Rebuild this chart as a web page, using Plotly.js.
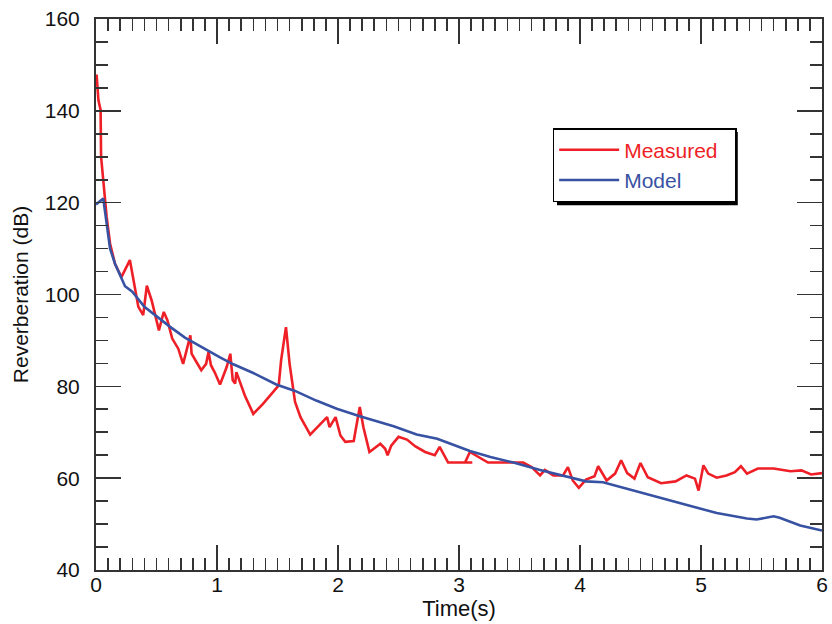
<!DOCTYPE html>
<html>
<head>
<meta charset="utf-8">
<script src="https://cdn.plot.ly/plotly-3.0.1.min.js"></script>
<style>
  html, body { margin: 0; padding: 0; background: #fff; }
  #chart { width: 832px; height: 624px; }
</style>
</head>
<body>
<div id="chart"></div>
<script>
// Measured reverberation level over time
const measuredTime = [0.005, 0.02, 0.038, 0.042, 0.06, 0.088, 0.116, 0.157, 0.21, 0.28,
  0.35, 0.39, 0.42, 0.46, 0.52, 0.56, 0.59, 0.63, 0.68, 0.72,
  0.78, 0.79, 0.83, 0.87, 0.91, 0.93, 0.95, 0.98, 1.025, 1.08,
  1.11, 1.13, 1.15, 1.16, 1.23, 1.30, 1.38, 1.51, 1.53, 1.57,
  1.60, 1.645, 1.69, 1.77, 1.91, 1.93, 1.98, 2.02, 2.06, 2.13,
  2.15, 2.18, 2.21, 2.24, 2.26, 2.35, 2.39, 2.41, 2.44, 2.50,
  2.57, 2.64, 2.72, 2.80, 2.84, 2.91, 3.11, 3.05, 3.09, 3.24,
  3.53, 3.60, 3.67, 3.71, 3.78, 3.86, 3.90, 3.94, 3.99, 4.05,
  4.12, 4.15, 4.22, 4.29, 4.34, 4.39, 4.45, 4.50, 4.56, 4.67,
  4.79, 4.88, 4.95, 4.98, 5.02, 5.06, 5.13, 5.21, 5.28, 5.33,
  5.38, 5.47, 5.60, 5.74, 5.83, 5.91, 6.0];
const measuredLevel = [147.9, 142.3, 140.2, 130.0, 124.9, 116.9, 111.1, 106.7, 103.8, 107.5,
  97.3, 95.5, 101.9, 98.7, 92.2, 96.2, 94.4, 90.4, 88.2, 84.9,
  91.1, 87.1, 85.3, 83.5, 84.9, 87.5, 84.6, 83.1, 80.4, 84.2,
  87.1, 81.3, 80.6, 83.1, 78.0, 74.0, 76.2, 80.2, 85.7, 92.9,
  84.9, 76.6, 73.3, 69.5, 73.3, 71.1, 73.3, 69.3, 67.9, 68.1,
  71.1, 75.5, 71.1, 67.5, 65.7, 67.5, 66.4, 65.0, 67.1, 69.0,
  68.4, 66.9, 65.7, 65.0, 66.8, 63.4, 63.4, 63.4, 65.7, 63.4,
  63.4, 62.4, 60.6, 61.8, 60.6, 60.6, 62.4, 59.5, 57.9, 59.7,
  60.4, 62.6, 59.5, 61.0, 63.9, 61.1, 59.9, 63.3, 60.2, 58.9,
  59.3, 60.6, 59.9, 57.3, 62.8, 61.0, 60.1, 60.6, 61.3, 62.6,
  61.0, 62.1, 62.1, 61.5, 61.7, 60.8, 61.1];

// Model prediction
const modelTime = [0.0, 0.06, 0.116, 0.157, 0.24, 0.30, 0.40, 0.50, 0.61, 0.735,
  0.82, 0.915, 1.025, 1.135, 1.30, 1.49, 1.645, 1.82, 1.99, 2.18,
  2.46, 2.65, 2.82, 2.93, 3.09, 3.26, 3.45, 3.67, 3.89, 4.05,
  4.19, 4.36, 4.58, 4.85, 5.13, 5.38, 5.46, 5.60, 5.65, 5.82, 6.0];
const modelLevel = [119.6, 120.9, 110.0, 106.7, 101.8, 100.6, 97.3, 95.2, 93.0, 90.6,
  89.3, 87.8, 86.3, 84.8, 82.9, 80.4, 79.0, 76.9, 75.1, 73.5,
  71.3, 69.5, 68.6, 67.5, 65.9, 64.6, 63.4, 61.8, 60.4, 59.3,
  59.1, 57.9, 56.2, 54.3, 52.4, 51.2, 51.0, 51.7, 51.4, 49.7, 48.6];

const seriesNames = ['Measured', 'Model'];
const seriesColors = ['#ee1f26', '#3852a3'];
const xTickVals = [0, 1, 2, 3, 4, 5, 6];
const yTickVals = [40, 60, 80, 100, 120, 140, 160];

const FONT = 'Liberation Sans, Arial, Helvetica, sans-serif';
const AXIS_COLOR = '#333333';

// legend entry label: coloured like its line, with a little right padding
function legendLabel(name, color) {
  return '<span style="color:' + color + '">' + name + '</span>&nbsp;&nbsp;';
}

const traces = [
  {
    x: measuredTime, y: measuredLevel, type: 'scatter', mode: 'lines',
    name: legendLabel(seriesNames[0], seriesColors[0]),
    line: { color: seriesColors[0], width: 2.6 }
  },
  {
    x: modelTime, y: modelLevel, type: 'scatter', mode: 'lines',
    name: legendLabel(seriesNames[1], seriesColors[1]),
    line: { color: seriesColors[1], width: 2.6 }
  }
];

const axisCommon = {
  showgrid: false, zeroline: false,
  showline: true, linecolor: AXIS_COLOR, linewidth: 2, mirror: 'allticks',
  ticks: 'inside', ticklen: 25, tickwidth: 1.6, tickcolor: AXIS_COLOR,
  tickfont: { family: FONT, size: 21, color: '#111' }
};

const layout = {
  width: 832, height: 624,
  margin: { l: 96, r: 10, t: 19, b: 54 },
  paper_bgcolor: '#fff', plot_bgcolor: '#fff',
  showlegend: true,
  xaxis: Object.assign({}, axisCommon, {
    range: [0, 6], tickvals: xTickVals, ticktext: xTickVals.map(String),
    minor: { dtick: 0.1, ticks: 'inside', ticklen: 12, tickwidth: 1.6, tickcolor: AXIS_COLOR },
    ticklabelstandoff: -5,
    title: { text: 'Time(s)', font: { family: FONT, size: 22, color: '#111' }, standoff: 0 }
  }),
  yaxis: Object.assign({}, axisCommon, {
    range: [40, 160], tickvals: yTickVals, ticktext: yTickVals.map(String),
    minor: { dtick: 5, ticks: 'inside', ticklen: 12, tickwidth: 1.6, tickcolor: AXIS_COLOR },
    ticklabelstandoff: 10,
    title: { text: 'Reverberation (dB)', font: { family: FONT, size: 21, color: '#111' }, standoff: 10 }
  }),
  legend: {
    x: 0.629, y: 0.802, xanchor: 'left', yanchor: 'top',
    bgcolor: '#ffffff', bordercolor: '#000000', borderwidth: 1.5,
    font: { family: FONT, size: 21 },
    itemwidth: 60, tracegroupgap: 0
  },
  shapes: [
    {
      // drop shadow behind the legend box
      type: 'rect', xref: 'paper', yref: 'paper', layer: 'above',
      x0: 0.635, x1: 0.884, y0: 0.662, y1: 0.795,
      fillcolor: '#000000', line: { width: 0 }
    }
  ]
};

Plotly.newPlot('chart', traces, layout, { displayModeBar: false, staticPlot: true });
</script>
</body>
</html>
